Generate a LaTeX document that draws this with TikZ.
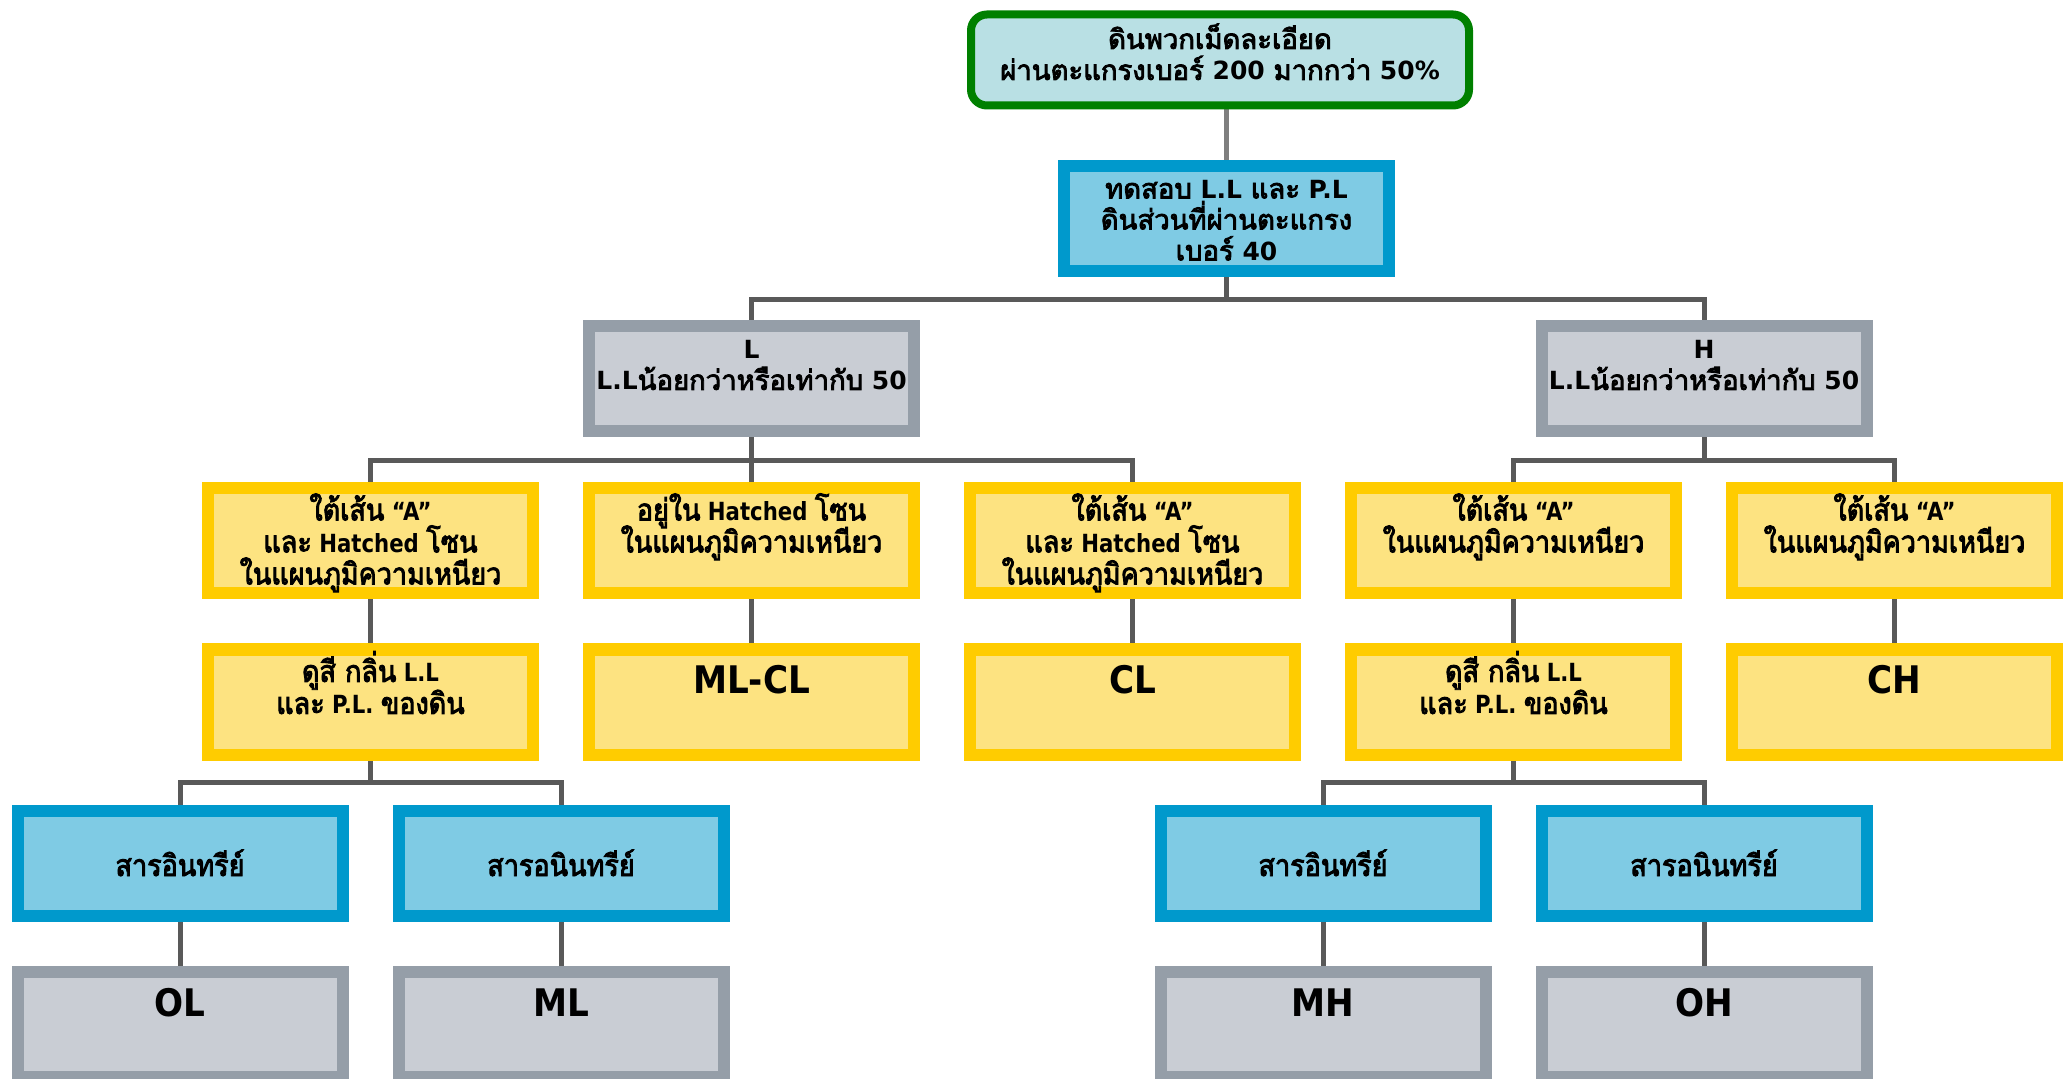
\documentclass[tikz,border=0pt]{standalone}
\usepackage{fontspec}
\usetikzlibrary{backgrounds}
\setmainfont{DejaVu Sans}
\newfontfamily\thai[Script=Thai,Scale=1.1,AutoFakeBold=3]{Loma}
\newfontfamily\latc[FakeStretch=0.85]{DejaVu Sans}
\newfontfamily\latw[FakeStretch=0.9]{DejaVu Sans}
\newfontfamily\thaic[Script=Thai,Scale=1.2,FakeStretch=0.9,AutoFakeBold=3]{Loma}
\newcommand\T[1]{{\thai\bfseries #1}}
\newcommand\Tc[1]{{\thaic\bfseries #1}}
\newcommand\fs{\rule{0pt}{16pt}}
\newcommand\bigs{\rule{0pt}{22pt}}
\definecolor{connc}{HTML}{595959}
\definecolor{conntop}{HTML}{7F7F7F}
\definecolor{topB}{HTML}{008000}
\definecolor{topF}{HTML}{B9E0E4}
\definecolor{bluB}{HTML}{0099CC}
\definecolor{bluF}{HTML}{7FCBE4}
\definecolor{gryB}{HTML}{959EA8}
\definecolor{gryF}{HTML}{C9CDD4}
\definecolor{yelB}{HTML}{FFCC00}
\definecolor{yelF}{HTML}{FDE381}
\begin{document}
\lineskiplimit=-30pt
\begin{tikzpicture}[x=0.5pt,y=-0.5pt,
  box/.style={rectangle, draw, line width=6pt, outer sep=0pt, inner sep=0pt,
    minimum width=162.5pt, minimum height=52.5pt},
  topbox/.style={rectangle, rounded corners=8pt, draw=topB, fill=topF, line width=4pt,
    outer sep=0pt, inner sep=0pt, minimum width=249pt, minimum height=45.5pt},
  yel/.style={box, draw=yelB, fill=yelF},
  blu/.style={box, draw=bluB, fill=bluF},
  gry/.style={box, draw=gryB, fill=gryF},
  lbl/.style={anchor=north, align=center, inner sep=0pt,
    font=\bfseries\fontsize{12.5}{15.5}\selectfont},
  lblc/.style={anchor=north, align=center, inner sep=0pt,
    font=\latc\bfseries\fontsize{12.5}{16}\selectfont},
  big/.style={anchor=north, align=center, inner sep=0pt,
    font=\latw\bfseries\fontsize{19}{21}\selectfont},
  cn/.style={draw=connc, line width=2.5pt},
  cntop/.style={draw=conntop, line width=2.5pt}
]
\useasboundingbox (0,0) rectangle (2072,1079);

% level 0 and 1
\node[topbox] (top) at (1220,60) {};
\node[lbl] (ttop) at ([yshift=-1pt]top.north) {\fs\T{ดินพวกเม็ดละเอียด}\\\T{ผ่านตะแกรงเบอร์} 200 \T{มากกว่า} 50\%};
\node[blu] (sec) at (1226.5,218.5) {};
\node[lbl] (tsec) at (sec.north) {\fs\T{ทดสอบ} L.L \T{และ} P.L\\\T{ดินส่วนที่ผ่านตะแกรง}\\\T{เบอร์} 40};

% level 2
\node[gry] (L) at (751.5,379) {};
\node[lbl] (tL) at (L.north) {\fs L\\L.L\T{น้อยกว่าหรือเท่ากับ} 50};
\node[gry] (H) at (1704,379) {};
\node[lbl] (tH) at (H.north) {\fs H\\L.L\T{น้อยกว่าหรือเท่ากับ} 50};

% level 3
\node[yel] (a1) at (370.5,540.5) {};
\node[lblc] (ta1) at (a1.north) {\fs\Tc{ใต้เส้น} “A”\\\Tc{และ} Hatched \Tc{โซน}\\\Tc{ในแผนภูมิความเหนียว}};
\node[yel] (a2) at (751.5,540.5) {};
\node[lblc] (ta2) at (a2.north) {\fs\Tc{อยู่ใน} Hatched \Tc{โซน}\\\Tc{ในแผนภูมิความเหนียว}};
\node[yel] (a3) at (1132.5,540.5) {};
\node[lblc] (ta3) at (a3.north) {\fs\Tc{ใต้เส้น} “A”\\\Tc{และ} Hatched \Tc{โซน}\\\Tc{ในแผนภูมิความเหนียว}};
\node[yel] (a4) at (1513.5,540.5) {};
\node[lblc] (ta4) at (a4.north) {\fs\Tc{ใต้เส้น} “A”\\\Tc{ในแผนภูมิความเหนียว}};
\node[yel] (a5) at (1894.5,540.5) {};
\node[lblc] (ta5) at (a5.north) {\fs\Tc{ใต้เส้น} “A”\\\Tc{ในแผนภูมิความเหนียว}};

% level 4
\node[yel] (b1) at (370.5,702) {};
\node[lblc] (tb1) at (b1.north) {\fs\Tc{ดูสี กลิ่น} L.L\\\Tc{และ} P.L. \Tc{ของดิน}};
\node[yel] (b2) at (751.5,702) {};
\node[big] (tb2) at (b2.north) {\bigs ML-CL};
\node[yel] (b3) at (1132.5,702) {};
\node[big] (tb3) at (b3.north) {\bigs CL};
\node[yel] (b4) at (1513.5,702) {};
\node[lblc] (tb4) at (b4.north) {\fs\Tc{ดูสี กลิ่น} L.L\\\Tc{และ} P.L. \Tc{ของดิน}};
\node[yel] (b5) at (1894.5,702) {};
\node[big] (tb5) at (b5.north) {\bigs CH};

% level 5
\node[blu] (c1) at (180,863) {};
\node[lblc, anchor=base] (tc1) at ([yshift=-6.5pt]c1.center) {\Tc{สารอินทรีย์}};
\node[blu] (c2) at (561,863) {};
\node[lblc, anchor=base] (tc2) at ([yshift=-6.5pt]c2.center) {\Tc{สารอนินทรีย์}};
\node[blu] (c3) at (1323,863) {};
\node[lblc, anchor=base] (tc3) at ([yshift=-6.5pt]c3.center) {\Tc{สารอินทรีย์}};
\node[blu] (c4) at (1704,863) {};
\node[lblc, anchor=base] (tc4) at ([yshift=-6.5pt]c4.center) {\Tc{สารอนินทรีย์}};

% level 6
\node[gry] (d1) at (180,1024.5) {};
\node[big] (td1) at (d1.north) {\bigs OL};
\node[gry] (d2) at (561,1024.5) {};
\node[big] (td2) at (d2.north) {\bigs ML};
\node[gry] (d3) at (1323,1024.5) {};
\node[big] (td3) at (d3.north) {\bigs MH};
\node[gry] (d4) at (1704,1024.5) {};
\node[big] (td4) at (d4.north) {\bigs OH};

\begin{scope}[on background layer]
\fill[white] (0,0) rectangle (2072,1079);
\draw[cntop] (sec.north) -- (sec.north |- top.south);
\draw[cn] (sec.south) -- ++(0,29) -| (L.north);
\draw[cn] (sec.south) -- ++(0,29) -| (H.north);
\draw[cn] (L.south) -- ++(0,29) -| (a1.north);
\draw[cn] (L.south) -- (a2.north);
\draw[cn] (L.south) -- ++(0,29) -| (a3.north);
\draw[cn] (H.south) -- ++(0,29) -| (a4.north);
\draw[cn] (H.south) -- ++(0,29) -| (a5.north);
\draw[cn] (a1.south) -- (b1.north);
\draw[cn] (a2.south) -- (b2.north);
\draw[cn] (a3.south) -- (b3.north);
\draw[cn] (a4.south) -- (b4.north);
\draw[cn] (a5.south) -- (b5.north);
\draw[cn] (b1.south) -- ++(0,28) -| (c1.north);
\draw[cn] (b1.south) -- ++(0,28) -| (c2.north);
\draw[cn] (b4.south) -- ++(0,28) -| (c3.north);
\draw[cn] (b4.south) -- ++(0,28) -| (c4.north);
\draw[cn] (c1.south) -- (d1.north);
\draw[cn] (c2.south) -- (d2.north);
\draw[cn] (c3.south) -- (d3.north);
\draw[cn] (c4.south) -- (d4.north);
\end{scope}
\end{tikzpicture}
\end{document}
